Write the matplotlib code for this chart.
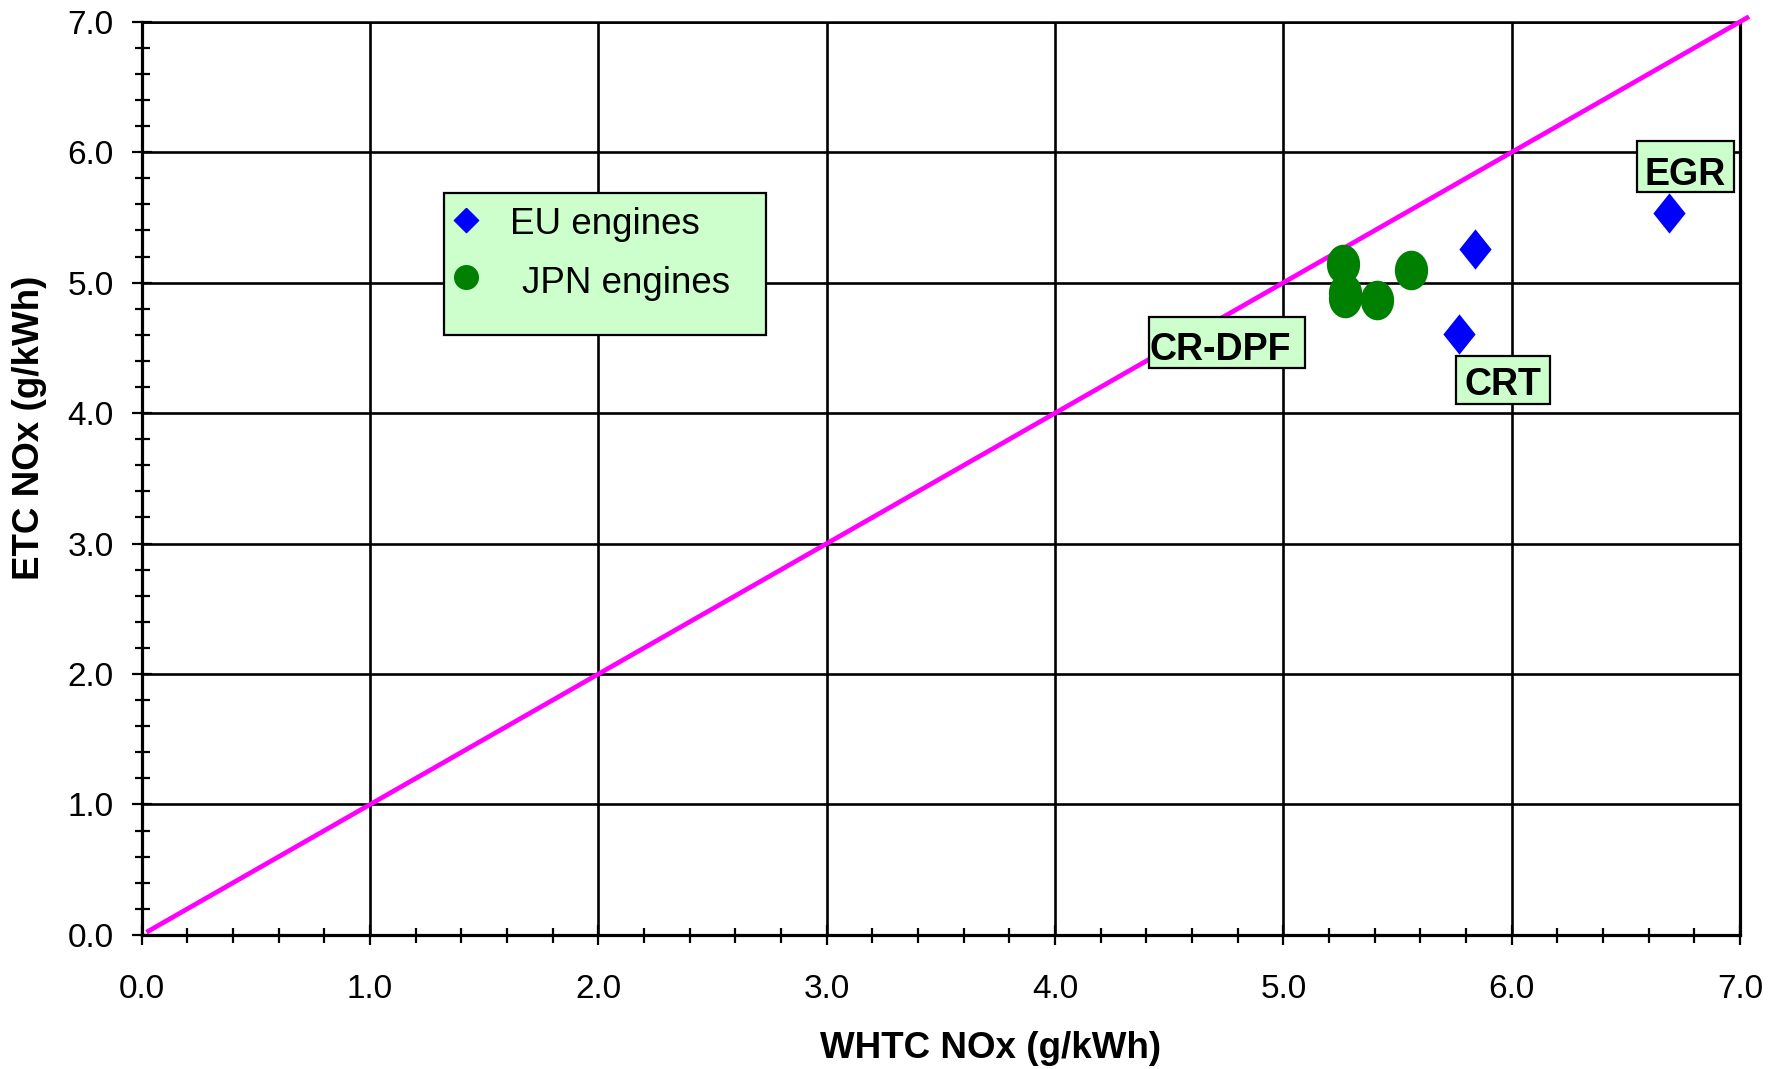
import numpy as np
import matplotlib
matplotlib.use("Agg")
import matplotlib.pyplot as plt
from matplotlib.patches import Rectangle
from matplotlib.ticker import MultipleLocator, FormatStrFormatter

plt.rcParams["font.family"] = ["Liberation Sans", "DejaVu Sans"]

# --- data ---
eu_whtc = [5.84, 5.77, 6.69]
eu_etc = [5.26, 4.61, 5.53]
jpn_whtc = [5.26, 5.27, 5.27, 5.41, 5.56]
jpn_etc = [5.14, 4.92, 4.88, 4.87, 5.10]

# 1:1 reference line
ref_x = [0.03, 7.03]
ref_y = [0.03, 7.03]

axis_max = 7.0

# annotation boxes: label, box (x0, x1, y0, y1), text anchor (x, baseline y, ha)
notes = [
    ("EGR", (6.548, 6.973, 5.696, 6.084), (6.76, 5.75, "center")),
    ("CR-DPF", (4.411, 5.096, 4.347, 4.735), (4.414, 4.404, "left")),
    ("CRT", (5.757, 6.168, 4.069, 4.439), (5.963, 4.141, "center")),
]

BOX_FILL = "#CCFFCC"

# markers in the plot are stretched vertically (w/h ~ 0.8)
t = np.linspace(0, 2 * np.pi, 64)
ellipse = list(zip(0.84 * np.cos(t), np.sin(t)))
tall_diamond = [(0, 1), (0.8, 0), (0, -1), (-0.8, 0), (0, 1)]
diamond = [(0, 1), (1, 0), (0, -1), (-1, 0), (0, 1)]

fig = plt.figure(figsize=(17.78, 10.69), dpi=100)
ax = fig.add_axes([0.0797, 0.1254, 0.8990, 0.8543])

ax.set_xlim(0, axis_max)
ax.set_ylim(0, axis_max)

ax.grid(True, which="major", color="black", linewidth=1.9, zorder=0)
ax.set_axisbelow(True)

ax.plot(ref_x, ref_y, color="#FF00FF", linewidth=3.4, clip_on=False, zorder=3)

ax.plot(jpn_whtc, jpn_etc, linestyle="none", marker=ellipse, markersize=28.5,
        color="#008000", markeredgewidth=0, zorder=4)
ax.plot(eu_whtc, eu_etc, linestyle="none", marker=tall_diamond, markersize=29,
        color="#0000FF", markeredgewidth=0, zorder=4)

for label, (x0, x1, y0, y1), (tx, ty, ha) in notes:
    ax.add_patch(Rectangle((x0, y0), x1 - x0, y1 - y0, facecolor=BOX_FILL,
                           edgecolor="black", linewidth=1.6, zorder=5))
    ax.text(tx, ty, label, ha=ha, va="baseline", fontsize=27, fontweight="bold",
            zorder=6)

# legend drawn by hand to match the boxed layout of the original
ax.add_patch(Rectangle((0.189, 0.657), 0.2015, 0.1556, transform=ax.transAxes,
                       facecolor=BOX_FILL, edgecolor="black", linewidth=1.6, zorder=5))
ax.plot([0.2027], [0.7829], transform=ax.transAxes, linestyle="none",
        marker=diamond, markersize=17.5, color="#0000FF", zorder=6)
ax.plot([0.2027], [0.7208], transform=ax.transAxes, linestyle="none",
        marker="o", markersize=17, color="#008000", zorder=6)
ax.text(0.2303, 0.7676, "EU engines", transform=ax.transAxes, fontsize=26.5,
        va="baseline", zorder=6)
ax.text(0.2378, 0.7026, "JPN engines", transform=ax.transAxes, fontsize=26.5,
        va="baseline", zorder=6)

# axes, ticks
for side in ["left", "bottom", "right"]:
    ax.spines[side].set_linewidth(2.3)
ax.spines["top"].set_linewidth(1.8)

ax.xaxis.set_major_locator(MultipleLocator(1.0))
ax.yaxis.set_major_locator(MultipleLocator(1.0))
ax.xaxis.set_minor_locator(MultipleLocator(0.2))
ax.yaxis.set_minor_locator(MultipleLocator(0.2))
ax.xaxis.set_major_formatter(FormatStrFormatter("%.1f"))
ax.yaxis.set_major_formatter(FormatStrFormatter("%.1f"))

ax.tick_params(which="major", direction="inout", length=14.4, width=1.6,
               labelsize=24)
ax.tick_params(which="minor", direction="inout", length=10.8, width=1.6)
ax.tick_params(axis="x", which="major", pad=21)
ax.tick_params(axis="y", which="major", pad=13)
ax.tick_params(top=False, right=False, which="both")

ax.set_xlabel("WHTC NOx (g/kWh)", fontsize=26.5, fontweight="bold", va="center")
ax.set_ylabel("ETC NOx (g/kWh)", fontsize=26.5, fontweight="bold", va="center")
ax.xaxis.set_label_coords(0.531, -0.1248)
ax.yaxis.set_label_coords(-0.0699, 0.555)

fig.savefig("out.png", dpi=100)
plt.close(fig)
